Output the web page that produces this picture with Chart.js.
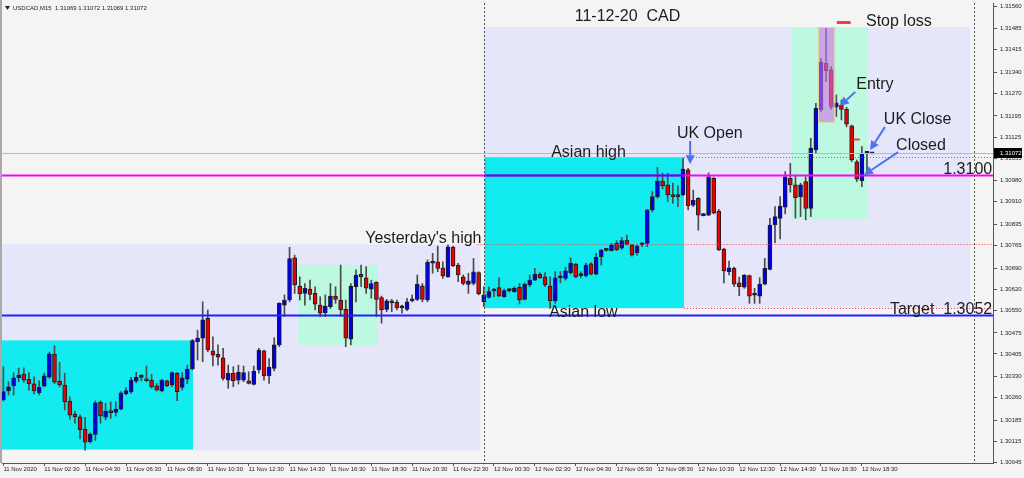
<!DOCTYPE html>
<html>
<head>
<meta charset="utf-8">
<title>USDCAD M15</title>
<script src="https://cdn.jsdelivr.net/npm/chart.js"></script>
<style>
  html, body { margin: 0; padding: 0; background: #f4f4f4; }
  #wrap { width: 1024px; height: 478px; }
</style>
</head>
<body>
<div id="wrap"><canvas id="usdcad-chart" width="1024" height="478"></canvas></div>
<script>
// USDCAD M15 candles, 11 Nov 00:30 -> 12 Nov 19:00 (one entry per bar)
const opens = [
  1.30252, 1.30282, 1.30299, 1.30326, 1.30338, 1.30321, 1.30306, 1.30276, 1.30298, 1.30328,
  1.30404, 1.30315, 1.30302, 1.30248, 1.30205, 1.30196, 1.30155, 1.30114, 1.30138, 1.30244,
  1.30195, 1.30216, 1.30211, 1.30222, 1.30272, 1.30279, 1.30315, 1.30327, 1.30321, 1.30318,
  1.30299, 1.30282, 1.30316, 1.30302, 1.30341, 1.30294, 1.30321, 1.30355, 1.30446, 1.30457,
  1.30523, 1.30415, 1.30404, 1.30392, 1.30318, 1.30341, 1.30318, 1.30318, 1.30316, 1.30304,
  1.30352, 1.30415, 1.30332, 1.30357, 1.30435, 1.30567, 1.30584, 1.30724, 1.30630, 1.30606,
  1.30620, 1.30606, 1.30567, 1.30542, 1.30562, 1.30597, 1.30584, 1.30553, 1.30454, 1.30628,
  1.30669, 1.30658, 1.30620, 1.30643, 1.30592, 1.30553, 1.30581, 1.30576, 1.30558, 1.30553,
  1.30581, 1.30586, 1.30631, 1.30584, 1.30706, 1.30711, 1.30691, 1.30661, 1.30759, 1.30700,
  1.30661, 1.30636, 1.30639, 1.30675, 1.30578, 1.30593, 1.30614, 1.30625, 1.30595, 1.30615,
  1.30612, 1.30626, 1.30586, 1.30634, 1.30650, 1.30669, 1.30661, 1.30630, 1.30581, 1.30658,
  1.30656, 1.30675, 1.30703, 1.30665, 1.30664, 1.30704, 1.30670, 1.30728, 1.30749, 1.30748,
  1.30772, 1.30756, 1.30783, 1.30767, 1.30741, 1.30767, 1.30772, 1.30883, 1.30927, 1.30979,
  1.30966, 1.30933, 1.30930, 1.30933, 1.31016, 1.30899, 1.30922, 1.30864, 1.30866, 1.30988,
  1.30879, 1.30753, 1.30678, 1.30689, 1.30641, 1.30627, 1.30665, 1.30600, 1.30597, 1.30637,
  1.30686, 1.30833, 1.30855, 1.30892, 1.30988, 1.30966, 1.30927, 1.30977, 1.30888, 1.31082,
  1.31215, 1.31370, 1.31348, 1.31224, 1.31231, 1.31217, 1.31162, 1.31043, 1.30980, 1.31071,
  1.31069
];
const highs = [
  1.30363, 1.30313, 1.30343, 1.30358, 1.30359, 1.30343, 1.30329, 1.30316, 1.30341, 1.30411,
  1.30432, 1.30377, 1.30341, 1.30263, 1.30215, 1.30202, 1.30195, 1.30143, 1.30249, 1.30249,
  1.30241, 1.30246, 1.30246, 1.30280, 1.30293, 1.30327, 1.30344, 1.30337, 1.30365, 1.30337,
  1.30307, 1.30321, 1.30318, 1.30346, 1.30343, 1.30343, 1.30368, 1.30453, 1.30484, 1.30578,
  1.30551, 1.30462, 1.30435, 1.30424, 1.30368, 1.30363, 1.30368, 1.30365, 1.30346, 1.30365,
  1.30424, 1.30418, 1.30390, 1.30459, 1.30575, 1.30601, 1.30759, 1.30733, 1.30661, 1.30639,
  1.30650, 1.30628, 1.30595, 1.30601, 1.30639, 1.30628, 1.30700, 1.30584, 1.30639, 1.30684,
  1.30700, 1.30695, 1.30650, 1.30645, 1.30597, 1.30586, 1.30586, 1.30584, 1.30567, 1.30590,
  1.30601, 1.30667, 1.30639, 1.30717, 1.30739, 1.30763, 1.30711, 1.30767, 1.30763, 1.30706,
  1.30667, 1.30673, 1.30722, 1.30678, 1.30628, 1.30628, 1.30623, 1.30658, 1.30620, 1.30620,
  1.30628, 1.30639, 1.30641, 1.30667, 1.30689, 1.30675, 1.30675, 1.30661, 1.30678, 1.30678,
  1.30693, 1.30724, 1.30706, 1.30678, 1.30706, 1.30708, 1.30739, 1.30752, 1.30753, 1.30772,
  1.30781, 1.30792, 1.30800, 1.30769, 1.30767, 1.30774, 1.30885, 1.30944, 1.31024, 1.31005,
  1.31005, 1.30972, 1.30963, 1.31054, 1.31021, 1.30949, 1.30924, 1.30872, 1.31006, 1.30991,
  1.30885, 1.30756, 1.30713, 1.30693, 1.30660, 1.30669, 1.30667, 1.30623, 1.30658, 1.30722,
  1.30855, 1.30894, 1.30927, 1.31010, 1.31038, 1.30999, 1.30972, 1.30993, 1.31121, 1.31237,
  1.31386, 1.31486, 1.31359, 1.31265, 1.31248, 1.31224, 1.31165, 1.31049, 1.31093, 1.31073,
  1.31072
];
const lows = [
  1.30249, 1.30269, 1.30269, 1.30313, 1.30311, 1.30285, 1.30272, 1.30269, 1.30296, 1.30324,
  1.30307, 1.30296, 1.30219, 1.30188, 1.30175, 1.30123, 1.30086, 1.30109, 1.30118, 1.30175,
  1.30186, 1.30191, 1.30199, 1.30219, 1.30269, 1.30274, 1.30309, 1.30315, 1.30313, 1.30291,
  1.30282, 1.30279, 1.30296, 1.30296, 1.30250, 1.30285, 1.30306, 1.30352, 1.30385, 1.30379,
  1.30412, 1.30365, 1.30368, 1.30318, 1.30291, 1.30296, 1.30305, 1.30313, 1.30305, 1.30302,
  1.30341, 1.30318, 1.30307, 1.30349, 1.30429, 1.30529, 1.30578, 1.30606, 1.30584, 1.30567,
  1.30584, 1.30551, 1.30529, 1.30529, 1.30556, 1.30573, 1.30529, 1.30429, 1.30435, 1.30578,
  1.30628, 1.30606, 1.30590, 1.30529, 1.30507, 1.30545, 1.30545, 1.30551, 1.30540, 1.30549,
  1.30578, 1.30582, 1.30578, 1.30578, 1.30673, 1.30678, 1.30656, 1.30659, 1.30695, 1.30645,
  1.30634, 1.30606, 1.30634, 1.30601, 1.30562, 1.30590, 1.30595, 1.30595, 1.30593, 1.30610,
  1.30609, 1.30571, 1.30584, 1.30628, 1.30648, 1.30656, 1.30628, 1.30556, 1.30573, 1.30641,
  1.30650, 1.30670, 1.30658, 1.30658, 1.30661, 1.30667, 1.30667, 1.30700, 1.30746, 1.30747,
  1.30748, 1.30752, 1.30767, 1.30730, 1.30733, 1.30761, 1.30761, 1.30877, 1.30922, 1.30953,
  1.30910, 1.30905, 1.30894, 1.30930, 1.30883, 1.30894, 1.30816, 1.30863, 1.30864, 1.30870,
  1.30748, 1.30641, 1.30667, 1.30628, 1.30598, 1.30623, 1.30573, 1.30573, 1.30573, 1.30634,
  1.30684, 1.30774, 1.30787, 1.30870, 1.30942, 1.30856, 1.30861, 1.30850, 1.30861, 1.31071,
  1.31209, 1.31309, 1.31217, 1.31193, 1.31182, 1.31159, 1.31043, 1.30977, 1.30960, 1.31002,
  1.31069
];
const closes = [
  1.30280, 1.30296, 1.30326, 1.30335, 1.30318, 1.30306, 1.30282, 1.30294, 1.30332, 1.30405,
  1.30311, 1.30302, 1.30246, 1.30202, 1.30196, 1.30154, 1.30112, 1.30139, 1.30243, 1.30199,
  1.30215, 1.30210, 1.30222, 1.30276, 1.30283, 1.30318, 1.30327, 1.30327, 1.30316, 1.30296,
  1.30285, 1.30318, 1.30299, 1.30343, 1.30280, 1.30326, 1.30355, 1.30449, 1.30458, 1.30518,
  1.30418, 1.30401, 1.30394, 1.30324, 1.30341, 1.30316, 1.30344, 1.30343, 1.30307, 1.30348,
  1.30418, 1.30332, 1.30361, 1.30435, 1.30573, 1.30584, 1.30722, 1.30634, 1.30604, 1.30623,
  1.30603, 1.30570, 1.30540, 1.30564, 1.30597, 1.30586, 1.30551, 1.30457, 1.30630, 1.30667,
  1.30661, 1.30623, 1.30639, 1.30586, 1.30551, 1.30581, 1.30574, 1.30558, 1.30558, 1.30578,
  1.30586, 1.30636, 1.30586, 1.30709, 1.30711, 1.30689, 1.30664, 1.30761, 1.30698, 1.30667,
  1.30639, 1.30648, 1.30678, 1.30604, 1.30601, 1.30612, 1.30617, 1.30598, 1.30615, 1.30615,
  1.30623, 1.30584, 1.30636, 1.30650, 1.30669, 1.30658, 1.30634, 1.30582, 1.30658, 1.30661,
  1.30681, 1.30706, 1.30661, 1.30665, 1.30700, 1.30670, 1.30726, 1.30750, 1.30749, 1.30767,
  1.30750, 1.30781, 1.30769, 1.30733, 1.30763, 1.30772, 1.30883, 1.30927, 1.30980, 1.30963,
  1.30933, 1.30927, 1.30927, 1.31019, 1.30896, 1.30916, 1.30866, 1.30869, 1.30993, 1.30872,
  1.30750, 1.30681, 1.30691, 1.30637, 1.30628, 1.30667, 1.30597, 1.30600, 1.30637, 1.30689,
  1.30833, 1.30861, 1.30896, 1.30993, 1.30966, 1.30924, 1.30966, 1.30888, 1.31088, 1.31220,
  1.31375, 1.31345, 1.31224, 1.31239, 1.31217, 1.31168, 1.31049, 1.30985, 1.31071, 1.31071,
  1.31072
];

// one label every 8 bars (2 hours)
const xTickLabels = [
  '11 Nov 2020', '11 Nov 02:30', '11 Nov 04:30', '11 Nov 06:30', '11 Nov 08:30', '11 Nov 10:30',
  '11 Nov 12:30', '11 Nov 14:30', '11 Nov 16:30', '11 Nov 18:30', '11 Nov 20:30', '11 Nov 22:30',
  '12 Nov 00:30', '12 Nov 02:30', '12 Nov 04:30', '12 Nov 06:30', '12 Nov 08:30', '12 Nov 10:30',
  '12 Nov 12:30', '12 Nov 14:30', '12 Nov 16:30', '12 Nov 18:30'
];
const yTickValues = [
  1.31560, 1.31485, 1.31415, 1.31340, 1.31270, 1.31195, 1.31125, 1.31055, 1.30980, 1.30910, 1.30835,
  1.30765, 1.30690, 1.30620, 1.30550, 1.30475, 1.30405, 1.30330, 1.30260, 1.30185, 1.30115, 1.30045
];

const bidPrice = 1.31072;
const header = 'USDCAD,M15  1.31069 1.31072 1.31069 1.31072';

// levels drawn on the chart
const asianHigh = 1.31058;
const asianLow = 1.30557;
const yesterdayHigh = 1.30769;
const roundLevel = 1.31000;
const targetLevel = 1.30533;
const stopLevel = 1.31507;
const tpLevel = 1.31119;

// session boxes: [from bar, to bar, top price, bottom price]
const dayBoxes = [[-2, 93.3, 1.30769, 1.30085], [94.05, 189.2, 1.31490, 1.30557]];
const asiaBoxes = [[-2, 37.1, 1.30450, 1.30088], [94.2, 133.2, asianHigh, asianLow]];
const ukBoxes = [[57.7, 73.3, 1.30700, 1.30434], [154.3, 169.2, 1.31490, 1.30852]];
const tradeBox = [159.4, 162.6, 1.31490, 1.31175];

const separators = [94, 190];

// [text, bar, price, align]
const notes = [
  ['11-12-20  CAD', 111.8, 1.31524, 'left'],
  ['Stop loss', 168.8, 1.31507, 'left'],
  ['Entry', 166.9, 1.31298, 'left'],
  ['UK Close', 172.3, 1.31182, 'left'],
  ['Closed', 174.7, 1.31095, 'left'],
  ['UK Open', 131.8, 1.31138, 'left'],
  ['Asian high', 107.2, 1.31075, 'left'],
  ['1.3100', 193.5, 1.31016, 'right'],
  ["Yesterday's high", 70.8, 1.30787, 'left'],
  ['Target  1.3052', 193.5, 1.30551, 'right'],
  ['Asian low', 106.8, 1.30541, 'left'],
];

// [from bar, from price, to bar, to price]
const pointers = [
  [134.4, 1.31112, 134.4, 1.31035],
  [166.7, 1.31275, 163.7, 1.31228],
  [172.5, 1.31158, 169.6, 1.31082],
  [175.1, 1.31075, 168.4, 1.30999],
];

const candleColor = (i) => {
  if (closes[i] > opens[i]) return '#0000e8';
  if (closes[i] < opens[i]) return '#e80000';
  return '#111111';
};

const bodies = opens.map((o, i) => ({ x: i, y: [o, closes[i]] }));
const wicks = highs.map((h, i) => ({ x: i, y: [lows[i], h] }));

const smallFont = '6px "Liberation Sans", Arial, sans-serif';
const noteFont = '16px "Liberation Sans", Arial, sans-serif';

const drawArrow = (ctx, x0, y0, x1, y1) => {
  const ang = Math.atan2(y1 - y0, x1 - x0);
  const head = 9;
  const bx = x1 - Math.cos(ang) * head;
  const by = y1 - Math.sin(ang) * head;
  ctx.beginPath();
  ctx.moveTo(x0, y0);
  ctx.lineTo(bx, by);
  ctx.stroke();
  ctx.beginPath();
  ctx.moveTo(x1, y1);
  ctx.lineTo(bx + Math.sin(ang) * 4.5, by - Math.cos(ang) * 4.5);
  ctx.lineTo(bx - Math.sin(ang) * 4.5, by + Math.cos(ang) * 4.5);
  ctx.closePath();
  ctx.fill();
};

const mt4Overlay = {
  id: 'mt4Overlay',
  beforeDatasetsDraw(chart) {
    const { ctx, chartArea: a, scales: { x, y } } = chart;
    const fillBox = (b, color) => {
      const x0 = x.getPixelForValue(b[0]);
      const x1 = x.getPixelForValue(b[1]);
      const y0 = y.getPixelForValue(b[2]);
      const y1 = y.getPixelForValue(b[3]);
      ctx.fillStyle = color;
      ctx.fillRect(x0, y0, x1 - x0, y1 - y0);
    };
    ctx.save();
    ctx.beginPath();
    ctx.rect(a.left, a.top, a.right - a.left, a.bottom - a.top);
    ctx.clip();
    dayBoxes.forEach(b => fillBox(b, '#e6e6fa'));
    asiaBoxes.forEach(b => fillBox(b, '#12ecf0'));
    ukBoxes.forEach(b => fillBox(b, '#bdf8e1'));
    ctx.restore();
  },
  afterDatasetsDraw(chart) {
    const { ctx, chartArea: a, scales: { x, y } } = chart;
    const px = v => x.getPixelForValue(v);
    const py = v => Math.round(y.getPixelForValue(v)) + 0.5;
    const hLine = (price, from, to, color, width, dash) => {
      ctx.strokeStyle = color;
      ctx.lineWidth = width;
      ctx.setLineDash(dash || []);
      ctx.beginPath();
      ctx.moveTo(from, py(price));
      ctx.lineTo(to, py(price));
      ctx.stroke();
    };

    ctx.save();
    ctx.beginPath();
    ctx.rect(a.left, a.top, a.right - a.left, a.bottom - a.top);
    ctx.clip();

    // trade box sits on top of the candles, half transparent
    const tx0 = px(tradeBox[0]), tx1 = px(tradeBox[1]);
    const ty0 = y.getPixelForValue(tradeBox[2]), ty1 = y.getPixelForValue(tradeBox[3]);
    ctx.fillStyle = 'rgba(207, 115, 230, 0.6)';
    ctx.fillRect(tx0, ty0, tx1 - tx0, ty1 - ty0);
    ctx.strokeStyle = '#e2d69c';
    ctx.lineWidth = 1;
    ctx.strokeRect(Math.round(tx0) + 0.5, Math.round(ty0) + 0.5, tx1 - tx0, ty1 - ty0);

    // day separators
    ctx.strokeStyle = '#555';
    ctx.lineWidth = 1;
    ctx.setLineDash([2, 2]);
    separators.forEach(s => {
      const sx = Math.round(px(s)) + 0.5;
      ctx.beginPath();
      ctx.moveTo(sx, a.top);
      ctx.lineTo(sx, a.bottom);
      ctx.stroke();
    });

    hLine(bidPrice, a.left, a.right, '#b9b9b9', 1);
    hLine(roundLevel, a.left, a.right, '#ff00ff', 2);
    hLine(roundLevel, px(94.05), px(133.2), '#2424f4', 2);
    hLine(targetLevel, a.left, a.right, '#2020ff', 2);

    const red = '#ff3a3a';
    hLine(asianHigh, px(133.2), a.right, red, 1, [1, 2]);
    hLine(asianLow, px(133.2), a.right, red, 1, [1, 2]);
    hLine(yesterdayHigh, px(92.8), a.right, red, 1, [1, 2]);
    ctx.beginPath();
    const vx = Math.round(px(94.2)) + 0.5;
    ctx.moveTo(vx, py(asianHigh));
    ctx.lineTo(vx, py(yesterdayHigh));
    ctx.stroke();

    // stop / take-profit dashes
    hLine(stopLevel, px(163.1), px(165.8), '#f03c3c', 3);
    hLine(tpLevel, px(166.3), px(167.6), '#f03c3c', 2);
    ctx.setLineDash([]);

    ctx.strokeStyle = '#4c72f2';
    ctx.fillStyle = '#4c72f2';
    ctx.lineWidth = 2;
    pointers.forEach(p => drawArrow(ctx, px(p[0]), y.getPixelForValue(p[1]), px(p[2]), y.getPixelForValue(p[3])));

    ctx.font = noteFont;
    ctx.fillStyle = '#1c1c1c';
    ctx.textBaseline = 'middle';
    notes.forEach(n => {
      ctx.textAlign = n[3];
      ctx.fillText(n[0], px(n[1]), y.getPixelForValue(n[2]));
    });
    ctx.restore();
  },
  afterDraw(chart) {
    const { ctx, chartArea: a, scales: { y } } = chart;
    ctx.save();
    // window frame
    ctx.fillStyle = '#a9a9a9';
    ctx.fillRect(0, 0, 2, a.bottom);
    // header
    ctx.fillStyle = '#222';
    ctx.beginPath();
    ctx.moveTo(5, 6);
    ctx.lineTo(10, 6);
    ctx.lineTo(7.5, 10);
    ctx.closePath();
    ctx.fill();
    ctx.font = smallFont;
    ctx.textBaseline = 'middle';
    ctx.textAlign = 'left';
    ctx.fillText(header, 13, 8);
    // bid label on the price scale
    const by = Math.round(y.getPixelForValue(bidPrice));
    ctx.fillStyle = '#000';
    ctx.fillRect(a.right + 1, by - 5, 28, 10);
    ctx.fillStyle = '#fff';
    ctx.fillText(bidPrice.toFixed(5), a.right + 7, by);
    ctx.restore();
  }
};

new Chart(document.getElementById('usdcad-chart'), {
  type: 'bar',
  data: {
    datasets: [
      {
        label: 'Body',
        data: bodies,
        backgroundColor: (c) => candleColor(c.dataIndex),
        borderColor: '#1e1e1e',
        borderWidth: 1,
        borderSkipped: false,
        barThickness: 4,
        minBarLength: 2,
        grouped: false,
        order: 0,
      },
      {
        label: 'Wick',
        data: wicks,
        backgroundColor: '#4a4a4a',
        barThickness: 1,
        grouped: false,
        order: 1,
      },
    ],
  },
  options: {
    responsive: false,
    animation: false,
    layout: { padding: { left: 2, top: 3, right: 0, bottom: 0 } },
    plugins: {
      legend: { display: false },
      tooltip: { enabled: false },
    },
    scales: {
      x: {
        type: 'linear',
        offset: false,
        min: -0.27,
        max: 193.66,
        afterBuildTicks: (s) => { s.ticks = xTickLabels.map((l, i) => ({ value: i * 8 })); },
        afterFit: (s) => { s.height = 15; s.paddingLeft = 0; s.paddingRight = 0; },
        ticks: {
          callback: (v, i) => xTickLabels[i],
          autoSkip: false,
          maxRotation: 0,
          align: 'start',
          padding: 0,
          color: '#222',
          font: { family: '"Liberation Sans", Arial, sans-serif', size: 6 },
        },
        grid: { drawOnChartArea: false, offset: false, tickLength: 3, color: '#555' },
        border: { color: '#555' },
      },
      y: {
        position: 'right',
        min: 1.30043,
        max: 1.31570,
        afterBuildTicks: (s) => { s.ticks = yTickValues.map(v => ({ value: v })); },
        afterFit: (s) => { s.width = 31; s.paddingTop = 0; s.paddingBottom = 0; },
        ticks: {
          callback: (v) => v.toFixed(5),
          padding: 3,
          color: '#222',
          font: { family: '"Liberation Sans", Arial, sans-serif', size: 6 },
        },
        grid: { drawOnChartArea: false, tickLength: 4, color: '#555' },
        border: { color: '#555' },
      },
    },
  },
  plugins: [mt4Overlay],
});
</script>
</body>
</html>
